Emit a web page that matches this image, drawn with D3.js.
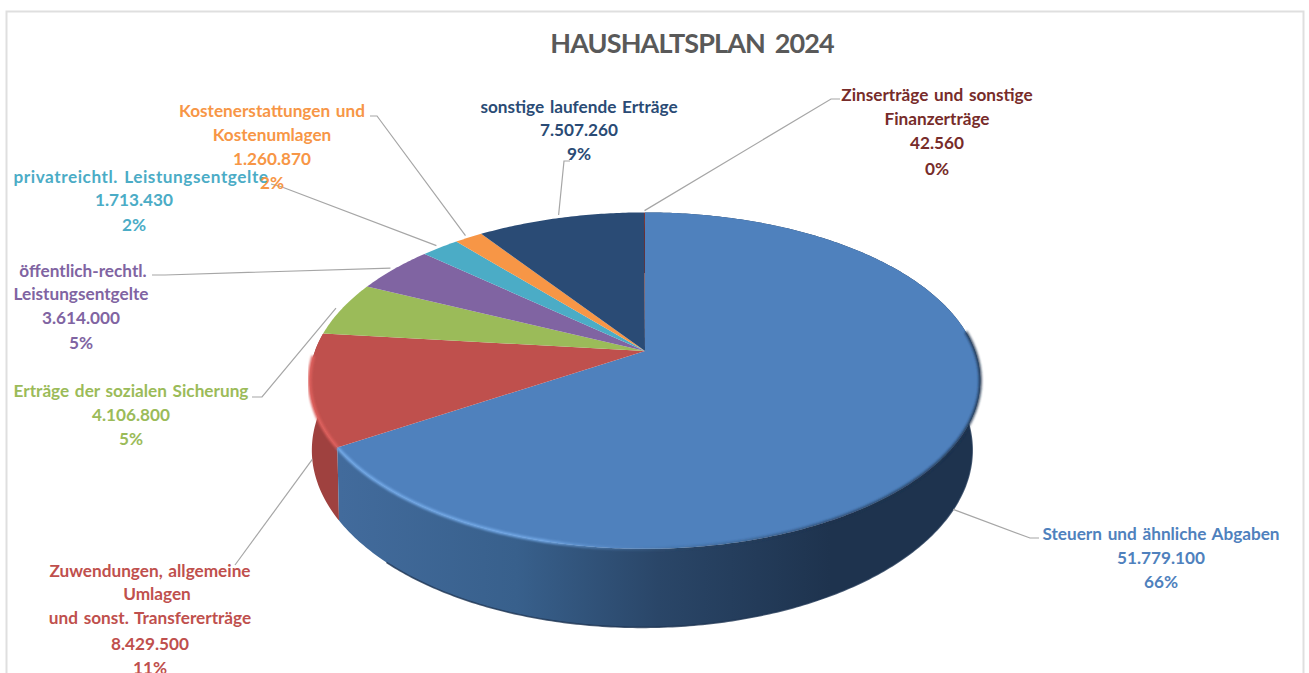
<!DOCTYPE html>
<html><head><meta charset="utf-8">
<script src="https://cdn.jsdelivr.net/npm/d3@7"></script>
<style>html,body{margin:0;padding:0;background:#fff;overflow:hidden}svg{display:block}text{font-family:Lato,"Open Sans",sans-serif;font-weight:700}</style>
</head><body><svg id="c" width="1309" height="673"></svg>
<script>
const chartTitle = "HAUSHALTSPLAN 2024";
const categories = ["Steuern und ähnliche Abgaben","Zuwendungen, allgemeine Umlagen und sonst. Transfererträge","Erträge der sozialen Sicherung","öffentlich-rechtl. Leistungsentgelte","privatreichtl. Leistungsentgelte","Kostenerstattungen und Kostenumlagen","sonstige laufende Erträge","Zinserträge und sonstige Finanzerträge"];
const values = [51779100,8429500,4106800,3614000,1713430,1260870,7507260,42560];
const valueLabels = ["51.779.100","8.429.500","4.106.800","3.614.000","1.713.430","1.260.870","7.507.260","42.560"];
const percentLabels = ["66%","11%","5%","5%","2%","2%","9%","0%"];
const categoryLines = [["Steuern und ähnliche Abgaben"],["Zuwendungen, allgemeine","Umlagen","und sonst. Transfererträge"],["Erträge der sozialen Sicherung"],["öffentlich-rechtl.","Leistungsentgelte"],["privatreichtl. Leistungsentgelte"],["Kostenerstattungen und","Kostenumlagen"],["sonstige laufende Erträge"],["Zinserträge und sonstige","Finanzerträge"]];
const colors = ["#4f81bd","#bf504d","#9bbb59","#8064a2","#4bacc6","#f79646","#2a4b75","#772c2a"];

// layout (not data)
const topPlane = {cx:645, cy:351, A:330, B:163, k:0.176};
const bottomPlane = {cx:642, cy:419, A:325, B:171.7, k:0.176};
const labelLayout = [
  {x:1161,y:[534,558,582],knee:[[1039,538],[1030,538]],plane:bottomPlane,r:1.0},
  {x:150,y:[571,594,618,644,668],dx:[0,7,0,0,0],knee:[[235,565]],plane:bottomPlane,r:1.0},
  {x:131,y:[391,415,439],knee:[[252,397],[262,397]],plane:topPlane,r:1.02},
  {x:81,y:[271,294,318,343],dx:[2,0,0,0],knee:[[152,275],[165,275]],plane:topPlane,r:1.015},
  {x:141,y:[177,200,225],dx:[0,-7,-7],ls:[0.55,0,0],knee:[[271,184],[282,187]],plane:topPlane,r:1.02},
  {x:272,y:[111,135,159,183],knee:[[370,116],[377,116]],plane:topPlane,r:1.02},
  {x:579,y:[107,130,154],knee:[[570,161],[564,161]],plane:topPlane,r:1.025},
  {x:937,y:[95,119,143,169],knee:[[840,99],[831,99]],plane:topPlane,r:1.015}
];

const svg = d3.select("#c");
const defs = svg.append("defs");
const sideGrad = defs.append("linearGradient").attr("id","blueSide").attr("gradientUnits","userSpaceOnUse").attr("x1",340).attr("x2",830).attr("y1",0).attr("y2",0);
[[0,"#426b9c"],[0.36,"#38608c"],[0.65,"#2a4668"],[1,"#1e334e"]].forEach(s=>sideGrad.append("stop").attr("offset",s[0]).attr("stop-color",s[1]));
const rimGrad = defs.append("linearGradient").attr("id","rim").attr("gradientUnits","userSpaceOnUse").attr("x1",338).attr("x2",980).attr("y1",0).attr("y2",0);
[[0,"#72a8e6",1],[0.32,"#72a8e6",.95],[0.44,"#5d8fca",.35],[0.55,"#2a4666",.25],[0.75,"#1e334e",.6],[1,"#1e334e",.85]].forEach(s=>rimGrad.append("stop").attr("offset",s[0]).attr("stop-color",s[1]).attr("stop-opacity",s[2]));
defs.append("filter").attr("id","soft").attr("x","-5%").attr("y","-5%").attr("width","110%").attr("height","110%").append("feGaussianBlur").attr("stdDeviation",0.9);

// frame
svg.append("path").attr("d","M6.5,680V11.5H1303.5V680").attr("fill","none").attr("stroke","#dfdfdf").attr("stroke-width",2);

const project = (p,a,r=1)=>{
  const u=r*Math.sin(a), v=r*Math.cos(a), w=1+p.k*v;
  return [p.cx+p.A*u/w, p.cy-p.B*v/w];
};
const arcs = d3.pie().sort(null).value(d=>d)(values);
const lineGen = d3.line();
const arcPts = (p,a0,a1)=>{
  const n=Math.max(2,Math.ceil((a1-a0)*90));
  return d3.range(n+1).map(i=>project(p,a0+(a1-a0)*i/n));
};

// sides (front-facing slices only)
const sideFill = ["url(#blueSide)","#9f413f"];
[1,0].forEach(i=>{
  const d=arcs[i];
  const pts=arcPts(topPlane,d.startAngle,d.endAngle).concat(arcPts(bottomPlane,d.startAngle,d.endAngle).reverse());
  svg.append("path").attr("d",lineGen(pts)+"Z").attr("fill",sideFill[i]);
});
// dark lower lip of the blue side
svg.append("path").attr("d",lineGen(arcPts(bottomPlane,arcs[0].startAngle+1.4,arcs[0].endAngle-0.25))).attr("fill","none").attr("stroke","#1e3553").attr("stroke-width",1.6).attr("opacity",.8);

// top faces
svg.append("g").selectAll("path").data(arcs).join("path")
  .attr("d",d=>lineGen([project(topPlane,0,0)].concat(arcPts(topPlane,d.startAngle,d.endAngle)))+"Z")
  .attr("fill",(d,i)=>colors[i]);

// bevel along the front edge of the top face
svg.append("path").attr("d",lineGen(arcPts(topPlane,1.45,arcs[0].endAngle))).attr("fill","none").attr("stroke","url(#rim)").attr("stroke-width",3.2).attr("filter","url(#soft)");
svg.append("path").attr("d",lineGen(arcPts(topPlane,arcs[1].startAngle,arcs[1].endAngle-0.14))).attr("fill","none").attr("stroke","#dc5f5c").attr("stroke-width",3.6).attr("filter","url(#soft)");

// leader lines
svg.append("g").selectAll("path").data(arcs).join("path")
  .attr("d",(d,i)=>{
    const L=labelLayout[i];
    return lineGen(L.knee.concat([project(L.plane,(d.startAngle+d.endAngle)/2,L.r)]));
  })
  .attr("fill","none").attr("stroke","#a6a6a6").attr("stroke-width",1.2);

// title
svg.append("text").attr("x",692).attr("y",53).attr("text-anchor","middle").attr("font-size",27).attr("fill","#595959").style("letter-spacing","-0.9px").style("word-spacing","4px").text(chartTitle);

// labels
categories.forEach((c,i)=>{
  const L=labelLayout[i];
  const lines=categoryLines[i].concat([valueLabels[i],percentLabels[i]]);
  const g=svg.append("text").attr("text-anchor","middle").attr("font-size",17.2).attr("fill",colors[i]).style("word-spacing","1.5px");
  lines.forEach((t,j)=>{
    const s=g.append("tspan").attr("x",L.x+((L.dx&&L.dx[j])||0)).attr("y",L.y[j]+5.5).text(t);
    if(L.ls&&L.ls[j]) s.style("letter-spacing",L.ls[j]+"px");
  });
});
</script></body></html>
